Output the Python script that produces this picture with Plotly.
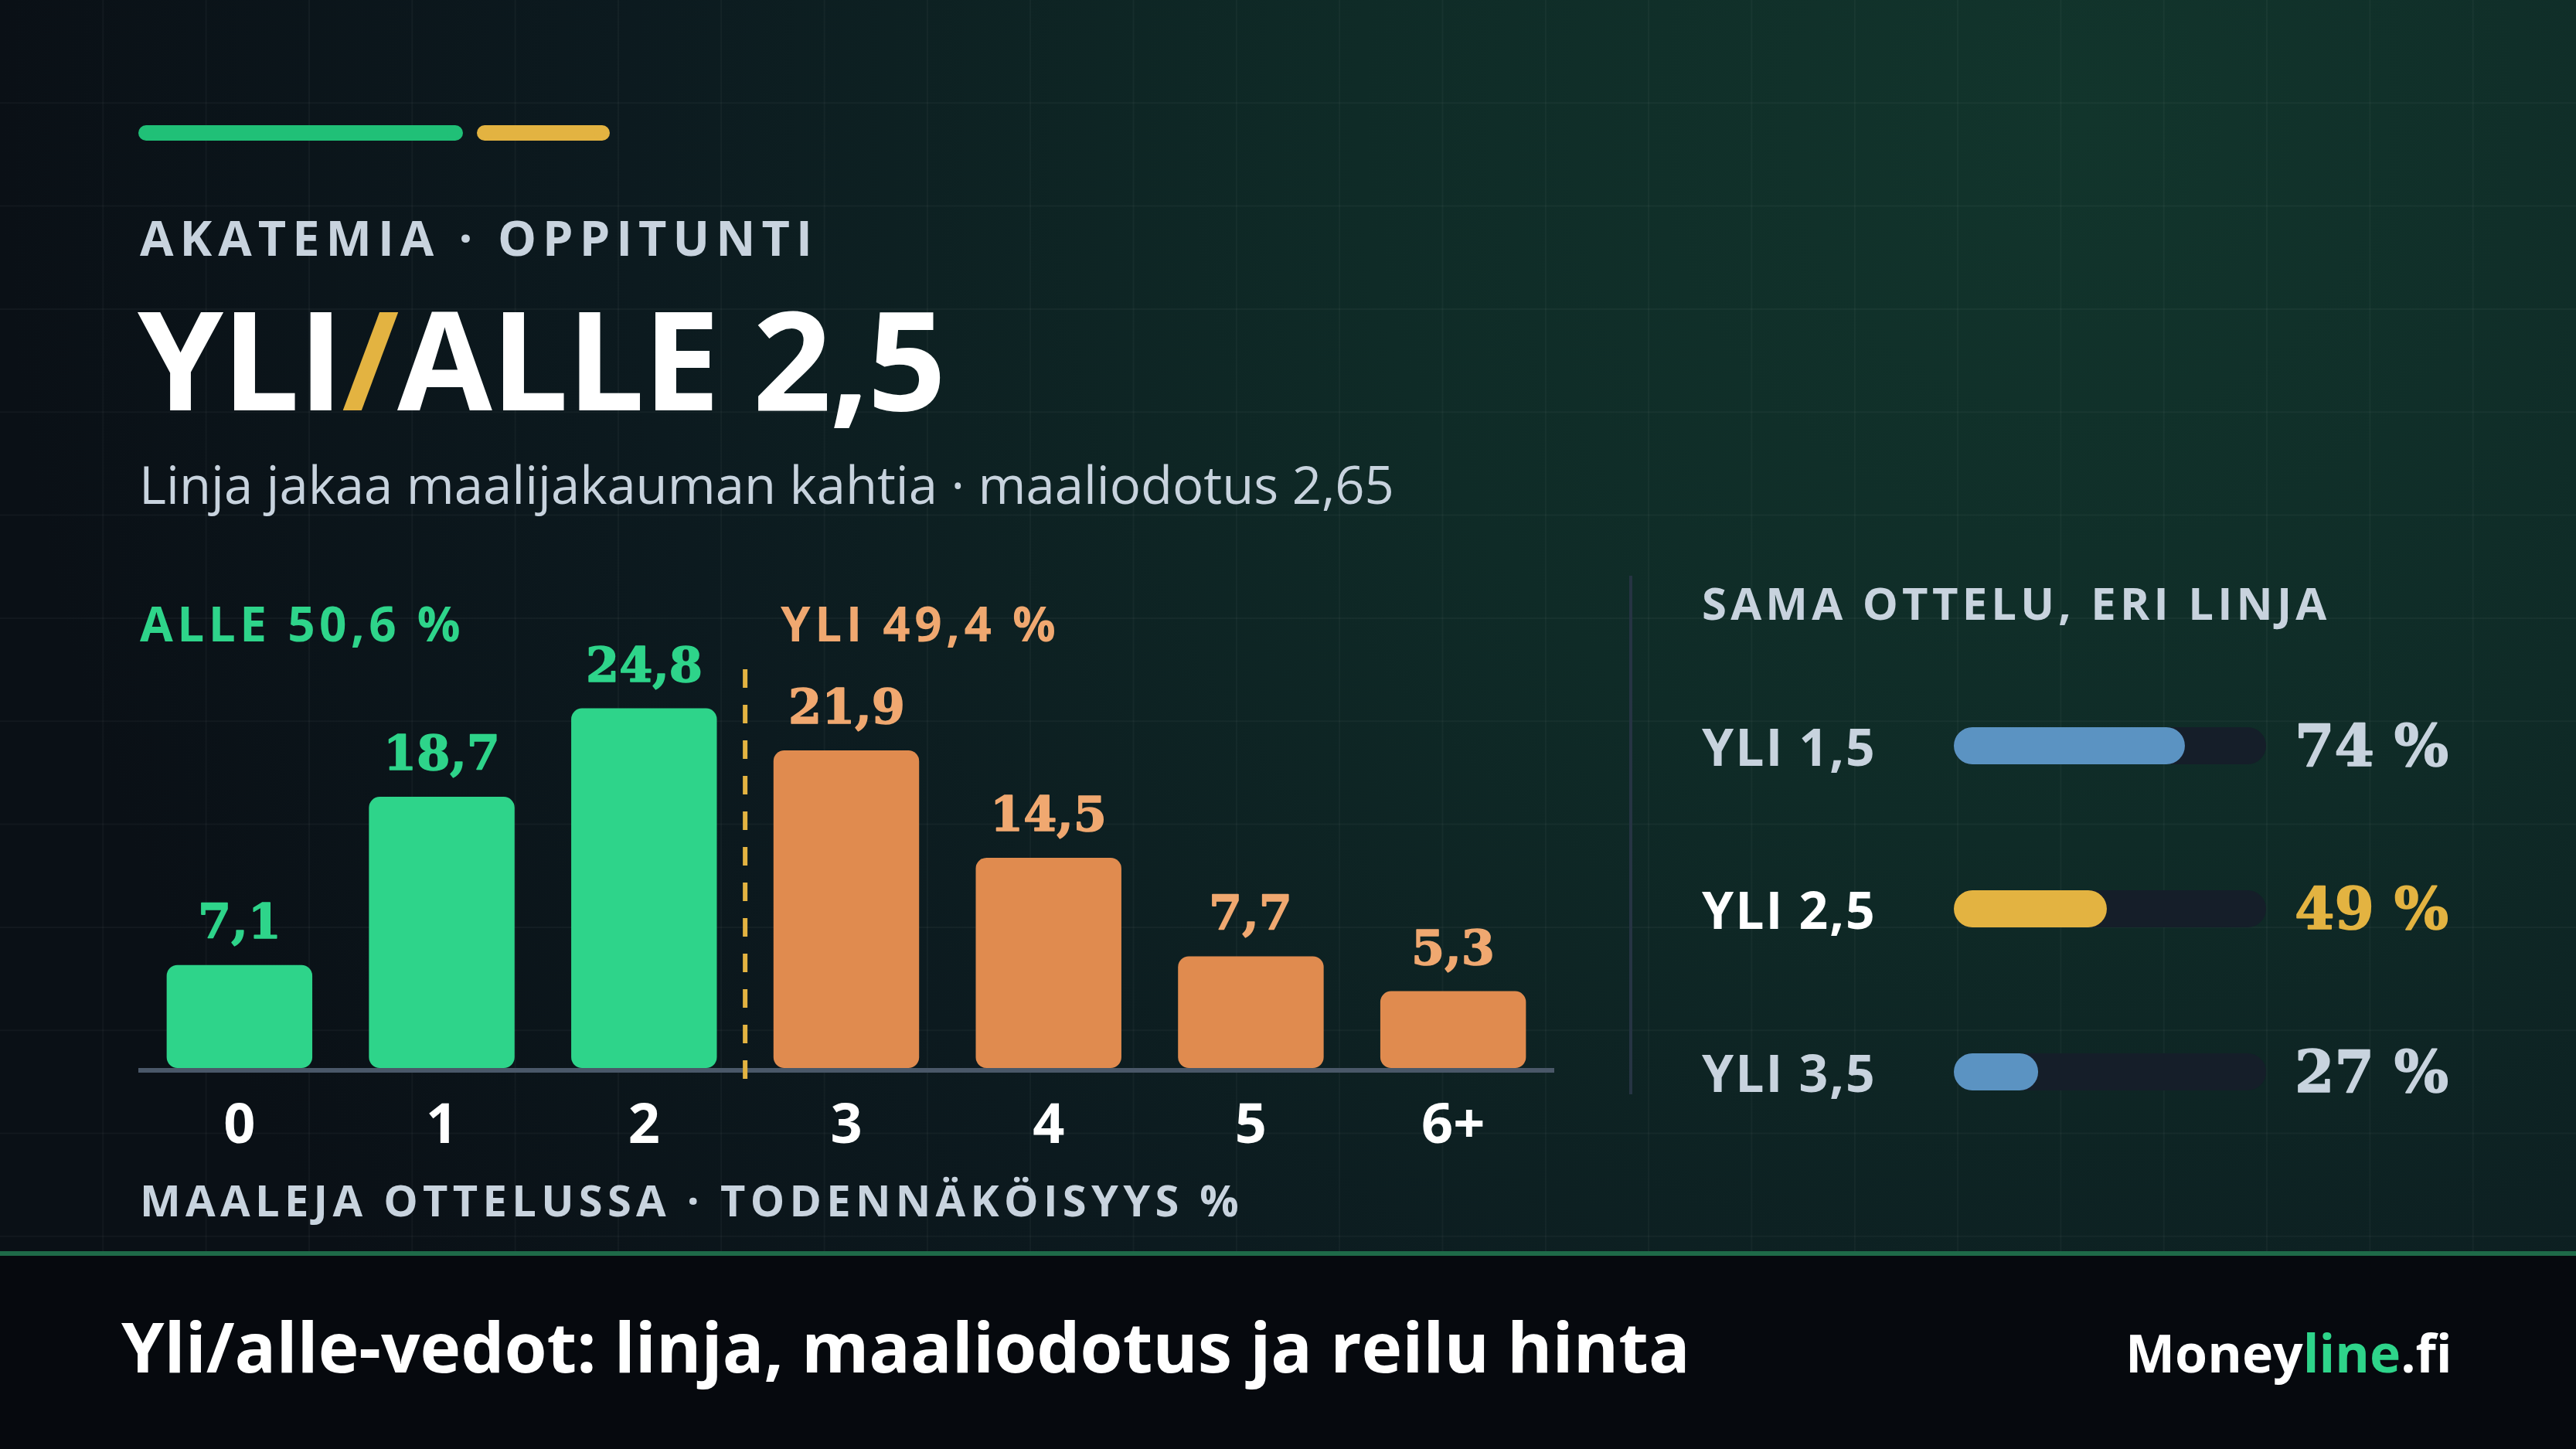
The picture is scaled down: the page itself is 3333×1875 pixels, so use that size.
import base64
import json
import plotly.graph_objects as go

# ---------------- data ----------------
GOALS = ["0", "1", "2", "3", "4", "5", "6+"]
PROB = [7.1, 18.7, 24.8, 21.9, 14.5, 7.7, 5.3]
LINE = 2.5
UNDER_PCT = 50.6
OVER_PCT = 49.4
EXP_GOALS = 2.65
ALT_LINES = ["YLI 1,5", "YLI 2,5", "YLI 3,5"]
ALT_PROB = [74, 49, 27]
HIGHLIGHT = "YLI 2,5"

# ---------------- style ----------------
W, H = 3333, 1875
GREEN = "#2ed48a"
GREEN_ACC = "#20c077"
ORANGE = "#e08b4f"
ORANGE_TXT = "#f0a870"
GOLD = "#e3b341"
BLUE = "#5b93c2"
TRACK = "#151e29"
MUTED = "#c8d3de"
WHITE = "#ffffff"
SANS = "Open Sans"
SERIF = "DejaVu Serif"


def px(x):
    return x / W


def py(y):
    return 1 - y / H


def fi(v, d=1):
    return f"{v:.{d}f}".replace(".", ",")


# ---------------- background (gradient + grid) ----------------
grid = []
step = W / 25
k = 1
while k * step < W:
    x = k * step
    grid.append(f"<line x1='{x:.1f}' y1='0' x2='{x:.1f}' y2='1620' stroke='rgba(255,255,255,0.035)' stroke-width='2'/>")
    k += 1
k = 1
while k * step < 1620:
    y = k * step
    grid.append(f"<line x1='0' y1='{y:.1f}' x2='{W}' y2='{y:.1f}' stroke='rgba(255,255,255,0.035)' stroke-width='2'/>")
    k += 1
svg = (
    f"<svg xmlns='http://www.w3.org/2000/svg' width='{W}' height='{H}' viewBox='0 0 {W} {H}'>"
    "<defs><radialGradient id='g' cx='2700' cy='150' r='2700' gradientUnits='userSpaceOnUse'>"
    "<stop offset='0' stop-color='#12352c'/>"
    "<stop offset='0.35' stop-color='#0f2b27'/>"
    "<stop offset='0.7' stop-color='#0c1a1f'/>"
    "<stop offset='1' stop-color='#0a1016'/>"
    "</radialGradient></defs>"
    f"<rect width='{W}' height='{H}' fill='#0a1016'/>"
    f"<rect width='{W}' height='1620' fill='url(#g)'/>"
    + "".join(grid)
    + "</svg>"
)
bg_src = "data:image/svg+xml;base64," + base64.b64encode(svg.encode()).decode()

fig = go.Figure()

# ---------------- main bar chart ----------------
xs = list(range(len(GOALS)))
bar_colors = [GREEN if i < LINE else ORANGE for i in xs]
lab_colors = [GREEN if i < LINE else ORANGE_TXT for i in xs]
fig.add_trace(go.Bar(
    x=xs, y=PROB, base=[0] * len(xs), width=0.72,
    marker=dict(color=bar_colors, cornerradius=14, line=dict(width=0)),
    xaxis="x", yaxis="y", hoverinfo="skip", showlegend=False,
))

# ---------------- right panel pills ----------------
ys = list(range(len(ALT_LINES)))
fill_colors = [GOLD if n == HIGHLIGHT else BLUE for n in ALT_LINES]
fig.add_trace(go.Bar(
    y=ys, x=[100] * len(ys), base=[0] * len(ys),
    orientation="h", width=0.2275,
    marker=dict(color=TRACK, cornerradius=24, line=dict(width=0)),
    xaxis="x2", yaxis="y2", hoverinfo="skip", showlegend=False,
))
fig.add_trace(go.Bar(
    y=ys, x=ALT_PROB, base=[0] * len(ys),
    orientation="h", width=0.2275,
    marker=dict(color=fill_colors, cornerradius=24, line=dict(width=0)),
    xaxis="x2", yaxis="y2", hoverinfo="skip", showlegend=False,
))

# ---------------- shapes ----------------
shapes = []


def pill(x0, x1, yc, h, color):
    r = h / 2
    shapes.append(dict(type="rect", xref="paper", yref="paper", x0=px(x0 + r), x1=px(x1 - r),
                       y0=py(yc + r), y1=py(yc - r), fillcolor=color, line=dict(width=0), layer="below"))
    for cx in (x0 + r, x1 - r):
        shapes.append(dict(type="circle", xref="paper", yref="paper", x0=px(cx - r), x1=px(cx + r),
                           y0=py(yc + r), y1=py(yc - r), fillcolor=color, line=dict(width=0), layer="below"))


pill(179, 599, 172, 20, GREEN_ACC)
pill(617, 789, 172, 20, GOLD)

# over/under split line
shapes.append(dict(type="line", xref="x", yref="paper", x0=LINE, x1=LINE, y0=py(866), y1=py(1404),
                   line=dict(color=GOLD, width=6, dash="24px,22px"), layer="above"))
# divider
shapes.append(dict(type="line", xref="paper", yref="paper", x0=px(2110), x1=px(2110), y0=py(745), y1=py(1416),
                   line=dict(color="#263443", width=4), layer="below"))
# footer
shapes.append(dict(type="rect", xref="paper", yref="paper", x0=0, x1=1, y0=0, y1=py(1625),
                   fillcolor="#06090e", line=dict(width=0), layer="below"))
shapes.append(dict(type="rect", xref="paper", yref="paper", x0=0, x1=1, y0=py(1625), y1=py(1619),
                   fillcolor="#1e6a48", line=dict(width=0), layer="below"))

# ---------------- annotations ----------------
ann = []


def text(x, y, s, size, color, weight=700, family=SANS, xanchor="left"):
    ann.append(dict(x=px(x), y=py(y), xref="paper", yref="paper", text=s, showarrow=False,
                    xanchor=xanchor, yanchor="middle", align=xanchor,
                    font=dict(family=family, size=size, color=color, weight=weight)))


text(179, 306, "AKATEMIA · OPPITUNTI", 63, MUTED)
text(176, 462, f"YLI<span style='color:{GOLD}'>/</span>ALLE {fi(LINE)}", 178, WHITE)
text(178, 626, f"Linja jakaa maalijakauman kahtia · maaliodotus {fi(EXP_GOALS, 2)}", 67, MUTED, weight=400)
text(179, 806, f"ALLE {fi(UNDER_PCT)} %", 62, GREEN)
text(1008, 806, f"YLI {fi(OVER_PCT)} %", 62, ORANGE_TXT)
text(179, 1552, "MAALEJA OTTELUSSA · TODENNÄKÖISYYS %", 56, MUTED)
text(2200, 780, "SAMA OTTELU, ERI LINJA", 58, MUTED)
text(155, 1741, "Yli/alle-vedot: linja, maaliodotus ja reilu hinta", 89, WHITE)
text(3175, 1749, f"Money<span style='color:{GREEN}'>line</span>.fi", 68, WHITE, xanchor="right")

# bar value labels
for i, v in zip(xs, PROB):
    ann.append(dict(x=i, y=v, xref="x", yref="y", text=fi(v), showarrow=False,
                    xanchor="center", yanchor="bottom", yshift=18,
                    font=dict(family=SERIF, size=62, color=lab_colors[i], weight=700)))

# right panel labels
for i, (name, p) in enumerate(zip(ALT_LINES, ALT_PROB)):
    hl = name == HIGHLIGHT
    ann.append(dict(x=px(2200), y=i, xref="paper", yref="y2", text=name, showarrow=False,
                    xanchor="left", yanchor="middle", align="left",
                    font=dict(family=SANS, size=66, color=WHITE if hl else MUTED, weight=700)))
    ann.append(dict(x=px(3170), y=i, xref="paper", yref="y2", text=f"{p} %", showarrow=False,
                    xanchor="right", yanchor="middle", align="right",
                    font=dict(family=SERIF, size=74, color=GOLD if hl else MUTED, weight=700)))

# ---------------- layout ----------------
fig.update_layout(
    width=W, height=H, autosize=False,
    margin=dict(l=0, r=0, t=0, b=0),
    paper_bgcolor="#0a1016", plot_bgcolor="rgba(0,0,0,0)",
    barmode="overlay", showlegend=False,
    hovermode=False,
    xaxis=dict(domain=[px(179), px(2011)], range=[-0.5, 6.5], tickmode="array", tickvals=xs, ticktext=GOALS,
               tickfont=dict(family=SANS, size=72, color=WHITE, weight=700),
               showgrid=False, zeroline=False, showline=True, linecolor="#4a5869", linewidth=6,
               ticks="", ticklabelstandoff=5, fixedrange=True),
    yaxis=dict(domain=[py(1382), py(819)], range=[0, 30], visible=False, fixedrange=True),
    xaxis2=dict(domain=[px(2528), px(2932)], range=[0, 100], visible=False, fixedrange=True, anchor="y2"),
    yaxis2=dict(domain=[py(1492.5), py(859.5)], range=[2.5, -0.5], visible=False, fixedrange=True, anchor="x2"),
    shapes=shapes,
    annotations=ann,
    images=[dict(source=bg_src, xref="paper", yref="paper", x=0, y=1, sizex=1, sizey=1,
                 sizing="stretch", xanchor="left", yanchor="top", layer="below")],
)

SPACING = {
    "AKATEMIA · OPPITUNTI": "8px",
    f"YLI/ALLE {fi(LINE)}": "-2px",
    f"ALLE {fi(UNDER_PCT)} %": "5.5px",
    f"YLI {fi(OVER_PCT)} %": "5.5px",
    "MAALEJA OTTELUSSA · TODENNÄKÖISYYS %": "6.3px",
    "SAMA OTTELU, ERI LINJA": "5.2px",
}
for n in ALT_LINES:
    SPACING[n] = "2px"
HEAVY = [fi(v) for v in PROB] + [f"{p} %" for p in ALT_PROB]

post = """
(function(){
document.documentElement.style.margin='0';
document.documentElement.style.background='#06090e';
document.body.style.margin='0';
document.body.style.padding='0';
document.body.style.background='#06090e';
var SP = %s;
var HV = %s;
function ls(){
  document.querySelectorAll('.annotation-text').forEach(function(t){
    var c = t.textContent;
    var s = SP[c];
    if (s) { t.style.letterSpacing = s; }
    if (HV.indexOf(c) >= 0) {
      t.style.stroke = t.style.fill;
      t.style.strokeWidth = '1.6px';
      t.style.strokeLinejoin = 'round';
    }
  });
}
ls();
var gd = document.getElementById('{plot_id}');
if (gd && gd.on) { gd.on('plotly_afterplot', ls); }
})();
""" % (json.dumps(SPACING, ensure_ascii=False), json.dumps(HEAVY, ensure_ascii=False))

fig.write_html("out.html", post_script=post, config={"displayModeBar": False, "staticPlot": True})
